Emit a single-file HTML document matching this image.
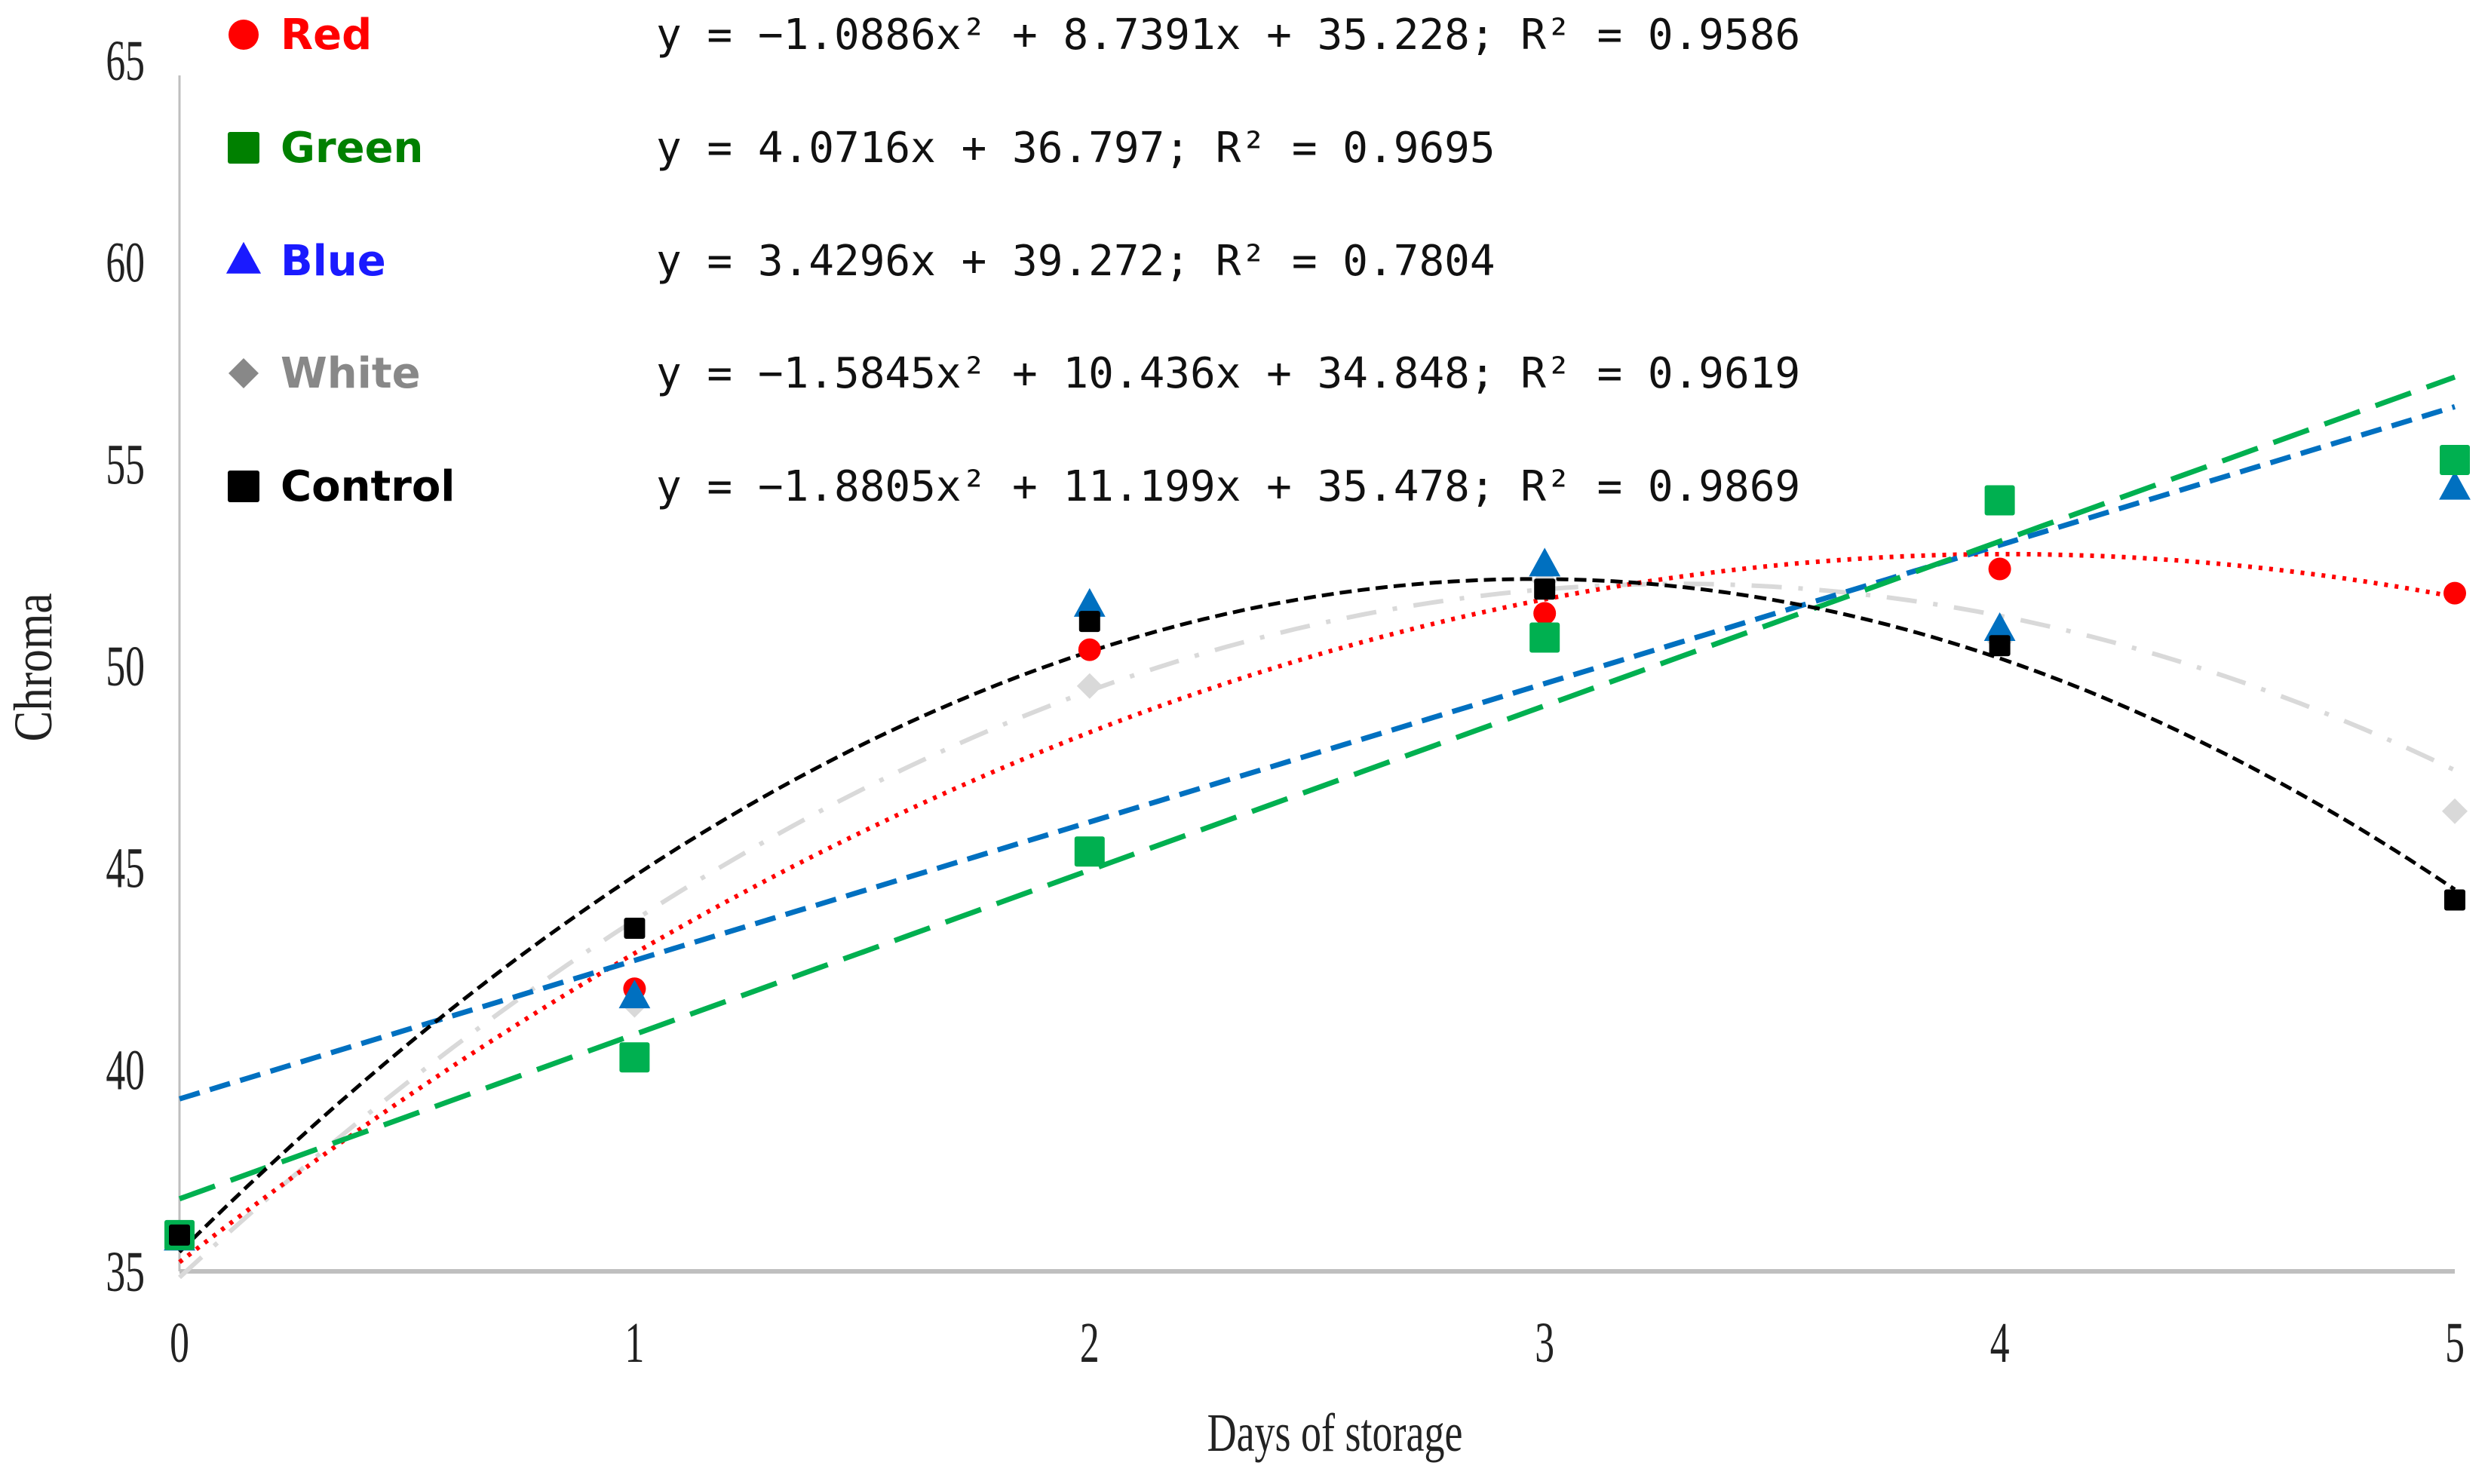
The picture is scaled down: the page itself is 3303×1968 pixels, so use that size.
<!DOCTYPE html>
<html><head><meta charset="utf-8"><style>
html,body{margin:0;padding:0;background:#fff;}
svg{display:block;}
</style></head><body>
<svg id="chart" width="3303" height="1968" xmlns="http://www.w3.org/2000/svg"></svg>
<script>
const xTicks=[0,1,2,3,4,5];
const yTicks=[35,40,45,50,55,60,65];
const seriesNames=["Red","Green","Blue","White","Control"];
const redVals=[35.9,42.0,50.4,51.3,52.4,51.8];
const greenVals=[35.9,40.3,45.4,50.7,54.1,55.1];
const blueVals=[35.8,41.8,51.5,52.5,50.9,54.4];
const whiteVals=[35.9,41.6,49.5,52.1,50.6,46.4];
const controlVals=[35.9,43.5,51.1,51.9,50.5,44.2];
// trendline coefficients [a (x^2), b (x), c]
const redFit=[-1.0886,8.7391,35.228];
const greenFit=[0,4.0716,36.797];
const blueFit=[0,3.4296,39.272];
const whiteFit=[-1.5845,10.436,34.848];
const controlFit=[-1.8805,11.199,35.478];
const equations=["y = \u22121.0886x\u00b2 + 8.7391x + 35.228; R\u00b2 = 0.9586","y = 4.0716x + 36.797; R\u00b2 = 0.9695","y = 3.4296x + 39.272; R\u00b2 = 0.7804","y = \u22121.5845x\u00b2 + 10.436x + 34.848; R\u00b2 = 0.9619","y = \u22121.8805x\u00b2 + 11.199x + 35.478; R\u00b2 = 0.9869"];

const NS="http://www.w3.org/2000/svg";
const svg=document.getElementById('chart');
const X0=238,X1=3255,Y0=1686,Y1=80;
const xs=v=>X0+(v-0)/(5-0)*(X1-X0);
const ys=v=>Y0-(v-35)/(65-35)*(Y0-Y1);
function mk(tag,attrs,parent){const e=document.createElementNS(NS,tag);for(const k in attrs)e.setAttribute(k,attrs[k]);(parent||svg).appendChild(e);return e;}

let ax=mk('line',{x1:X0,y1:Y1+20,x2:X0,y2:Y0,stroke:'#bfbfbf','stroke-width':3});


ax=mk('line',{x1:X0,y1:Y0,x2:X1,y2:Y0,stroke:'#bfbfbf','stroke-width':6});



yTicks.forEach(t=>{
  const e=mk('text',{x:0,y:0,'font-family':'Liberation Serif, serif','font-size':76,'text-anchor':'end',fill:'#222',transform:`translate(192,${ys(t)+26}) scale(0.68,1)`});
  e.textContent=t;
  
  
});
xTicks.forEach(t=>{
  const e=mk('text',{x:0,y:0,'font-family':'Liberation Serif, serif','font-size':76,'text-anchor':'middle',fill:'#222',transform:`translate(${xs(t)},${1806}) scale(0.68,1)`});
  e.textContent=t;
  
  
});
let tt=mk('text',{x:0,y:0,'font-family':'Liberation Serif, serif','font-size':72,'text-anchor':'middle',fill:'#222',transform:'translate(1770,1924) scale(0.75,1)'});
tt.textContent='Days of storage';


tt=mk('text',{x:0,y:0,'font-family':'Liberation Serif, serif','font-size':72,'text-anchor':'middle',fill:'#222',transform:'translate(68,885) rotate(-90) scale(0.85,1)'});
tt.textContent='Chroma';



const fits=[whiteFit,redFit,blueFit,greenFit,controlFit];
const fitStyles=[
 {stroke:'#d9d9d9','stroke-width':6,'stroke-dasharray':'40 22 6 22'},
 {stroke:'#ff0000','stroke-width':6,'stroke-dasharray':'5 9'},
 {stroke:'#0070c0','stroke-width':7,'stroke-dasharray':'28 14'},
 {stroke:'#00b050','stroke-width':7,'stroke-dasharray':'50 22'},
 {stroke:'#000','stroke-width':5,'stroke-dasharray':'16 8'}];
const fitNames=['white-trendline','red-trendline','blue-trendline','green-trendline','control-trendline'];
fits.forEach((f,i)=>{
  let d='';
  for(let k=0;k<=100;k++){const x=k*5/100;const y=f[0]*x*x+f[1]*x+f[2];d+=(k?'L':'M')+xs(x).toFixed(1)+' '+ys(y).toFixed(1);}
  const p=mk('path',Object.assign({d:d,fill:'none'},fitStyles[i]));
  
  
});

function marker(shape,x,y,color,s){
  let e;
  if(shape==='circle')e=mk('circle',{cx:x,cy:y,r:s,fill:color});
  else if(shape==='square')e=mk('rect',{x:x-s,y:y-s,width:2*s,height:2*s,fill:color,rx:3});
  else if(shape==='triangle')e=mk('polygon',{points:`${x},${y-s*1.2} ${x+s*1.1},${y+s*0.8} ${x-s*1.1},${y+s*0.8}`,fill:color});
  else e=mk('polygon',{points:`${x},${y-s} ${x+s},${y} ${x},${y+s} ${x-s},${y}`,fill:color});
  return e;
}
const groups=[[whiteVals,'diamond','#d9d9d9',17,'white-point'],[redVals,'circle','#ff0000',15,'red-point'],[blueVals,'triangle','#0070c0',19,'blue-point'],[greenVals,'square','#00b050',20,'green-point'],[controlVals,'square','#000',14,'control-point']];
groups.forEach(g=>{
  g[0].forEach((v,i)=>{
    const e=marker(g[1],xs(xTicks[i]),ys(v),g[2],g[3]);
    
    
  });
});

const legColors=['#ff0000','#008000','#1a1aff','#888888','#000'];
const legShapes=['circle','square','triangle','diamond','square'];
const rowY=[46,196,346,495,645];
seriesNames.forEach((n,i)=>{
  const m=marker(legShapes[i],323,rowY[i],legColors[i],i===0?20:(i===3?20:21));
  
  
  const t=mk('text',{x:372,y:rowY[i]+19,'font-family':'DejaVu Sans, sans-serif','font-weight':'bold','font-size':56,fill:legColors[i]});
  t.textContent=n;
  
  
  const q=mk('text',{x:870,y:rowY[i]+19,'font-family':'DejaVu Sans Mono, monospace','font-size':56,fill:'#111'});
  q.textContent=equations[i];
  
  
});
</script>
</body></html>
